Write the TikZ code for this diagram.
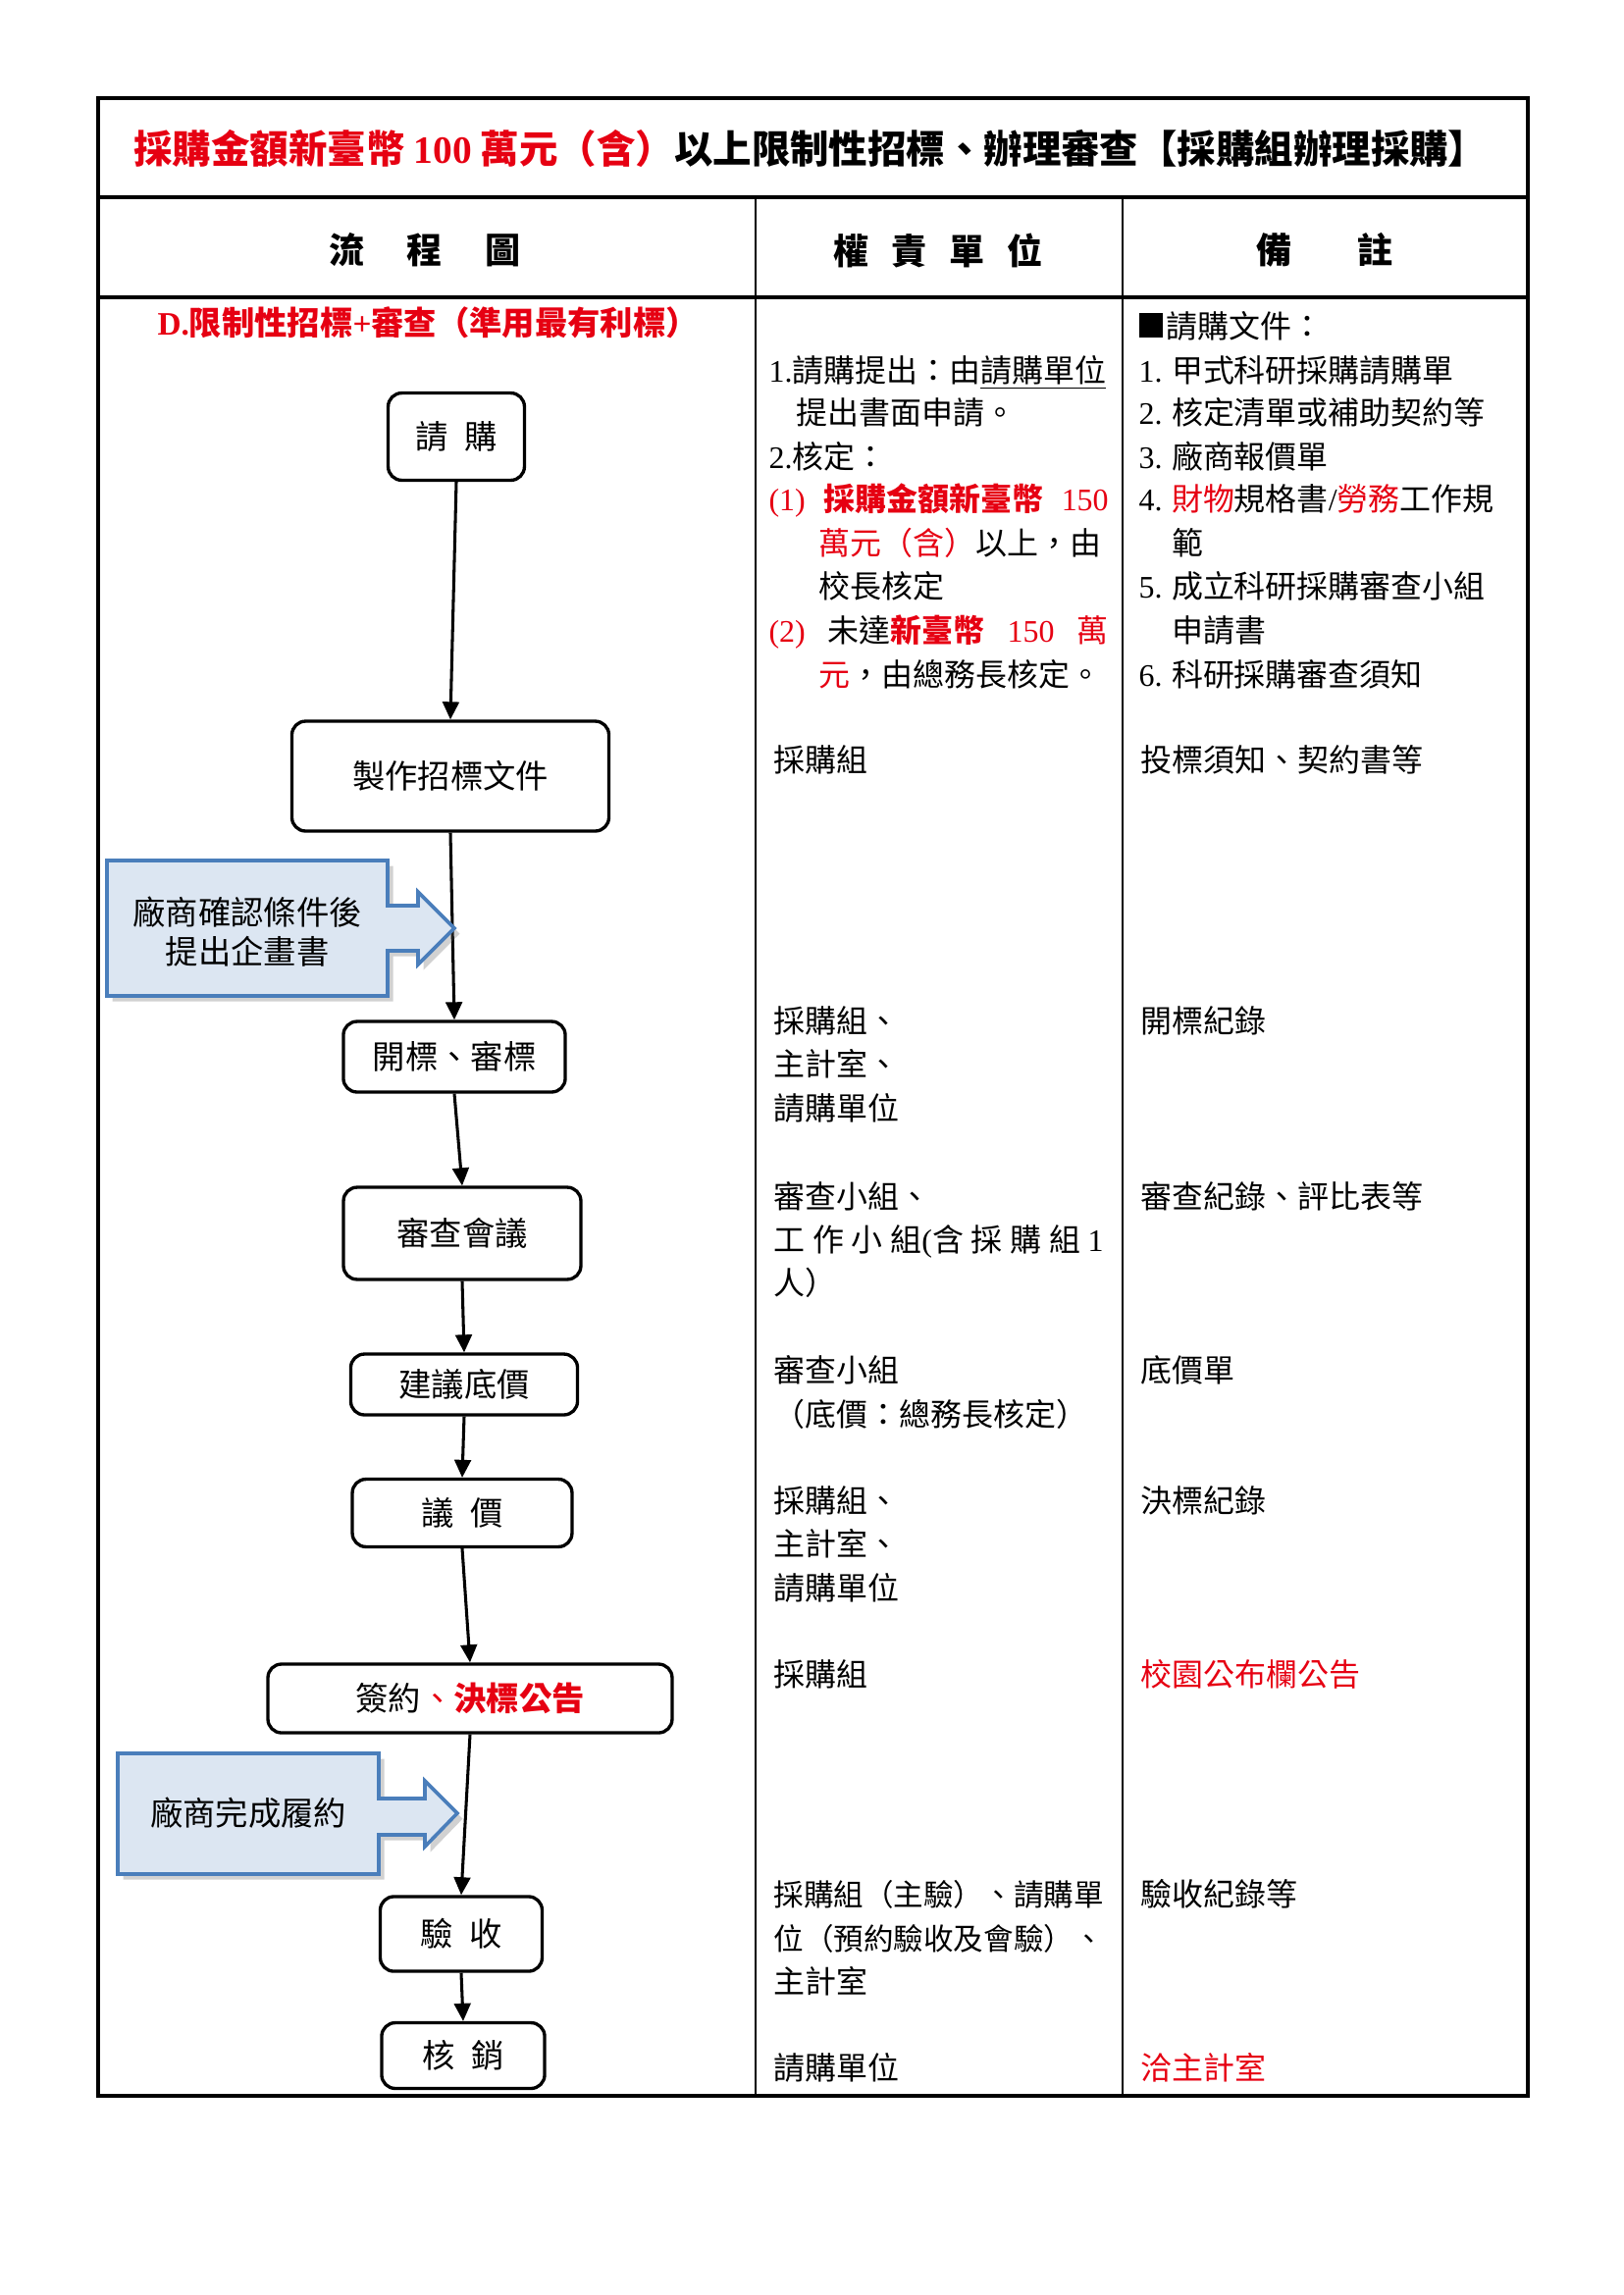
\documentclass[tikz,border=0pt]{standalone}
\usepackage{fontspec}
\setmainfont{Noto Sans CJK TC}
\newfontfamily\tnr{Liberation Serif}
\usetikzlibrary{arrows.meta,shadows}
\definecolor{myred}{RGB}{230,0,18}
\definecolor{cfill}{RGB}{220,230,242}
\definecolor{cdraw}{RGB}{74,126,187}
\newcommand{\nr}[1]{{\tnr #1}}
\newcommand{\rd}[1]{\textcolor{myred}{#1}}
\begin{document}
\begin{tikzpicture}[x=0.36pt,y=-0.36pt,
  tline/.style={line width=1.1pt},
  fbox/.style={draw, line width=1.2pt, rounded corners=5pt, inner sep=0pt, align=center, font=\fontsize{12}{14}\selectfont},
  conn/.style={line width=1.1pt, -{Triangle[length=6.5pt,width=6pt]}},
  callout/.style={fill=cfill, draw=cdraw, line width=1.3pt, drop shadow={shadow xshift=2pt, shadow yshift=-2pt, opacity=0.3, fill=black!60}},
  ctext/.style={inner sep=0pt, align=center, font=\fontsize{12}{14.4}\selectfont},
  txt/.style={anchor=west, inner sep=0pt, text height=10.1pt, text depth=1.4pt, font=\fontsize{11.5}{16}\selectfont},
  hdr/.style={inner sep=0pt, font=\bfseries\fontsize{13}{15}\selectfont},
]
\useasboundingbox (0,0) rectangle (1654,2339);

% table
\draw[tline] (100,100) rectangle (1557,2136);
\draw[tline] (100,201) -- (1557,201);
\draw[line width=1.4pt] (100,303) -- (1557,303);
\draw[line width=0.9pt] (770,201) -- (770,2136);
\draw[line width=0.9pt] (1144,201) -- (1144,2136);

% title and header
\node[inner sep=0pt, font=\bfseries\fontsize{14.2}{16}\selectfont] (title) at (826,151)
  {\rd{採購金額新臺幣 \nr{100} 萬元（含）}以上限制性招標、辦理審查【採購組辦理採購】};
\node[hdr] (h1) at (433,255) {流\hspace{15.5pt}程\hspace{15.5pt}圖};
\node[hdr] (h2) at (956,255) {權\hspace{8.3pt}責\hspace{8.3pt}單\hspace{8.3pt}位};
\node[hdr] (h3) at (1350,255) {備\hspace{23.8pt}註};

\node[txt, font=\bfseries\fontsize{12}{14}\selectfont, text=myred] (sub) at (160,329)
  {\nr{D.}限制性招標\nr{+}審查（準用最有利標）};

% flow nodes
\node[fbox, minimum width=50pt, minimum height=32pt] (n1) at (465,445) {請\hspace{6pt}購};
\node[fbox, minimum width=116.3pt, minimum height=40.3pt] (n2) at (459,791) {製作招標文件};
\node[fbox, minimum width=81.4pt, minimum height=25.9pt] (n3) at (463,1077) {開標、審標};
\node[fbox, minimum width=87.1pt, minimum height=33.8pt] (n4) at (471,1257) {審查會議};
\node[fbox, minimum width=83.2pt, minimum height=22.3pt] (n5) at (473,1411) {建議底價};
\node[fbox, minimum width=80.6pt, minimum height=24.8pt] (n6) at (471,1542) {議\hspace{6pt}價};
\node[fbox, minimum width=148.3pt, minimum height=25.2pt] (n7) at (479,1731) {簽約\rd{、\textbf{決標公告}}};
\node[fbox, minimum width=59.4pt, minimum height=27.4pt] (n8) at (470,1971) {驗\hspace{6pt}收};
\node[fbox, minimum width=59.8pt, minimum height=24.1pt] (n9) at (472,2095) {核\hspace{6pt}銷};

\draw[conn] (n1.south) -- (n2.north);
\draw[conn] (n2.south) -- (n3.north);
\draw[conn] (n3.south) -- (n4.north);
\draw[conn] (n4.south) -- (n5.north);
\draw[conn] (n5.south) -- (n6.north);
\draw[conn] (n6.south) -- (n7.north);
\draw[conn] (n7.south) -- (n8.north);
\draw[conn] (n8.south) -- (n9.north);

% callouts
\draw[callout] (109,877) -- (395,877) -- (395,923) -- (426,923) -- (426,909) -- (463,946)
  -- (426,983) -- (426,969) -- (395,969) -- (395,1015) -- (109,1015) -- cycle;
\node[ctext] (c1) at (252,950) {廠商確認條件後\\提出企畫書};
\draw[callout] (120,1787) -- (386,1787) -- (386,1833) -- (433,1833) -- (433,1815) -- (466,1848)
  -- (433,1882) -- (433,1870) -- (386,1870) -- (386,1910) -- (120,1910) -- cycle;
\node[ctext] (c2) at (253,1848) {廠商完成履約};

% column 2 (權責單位)
\node[txt] (a1) at (783,377) {\nr{1.}請購提出：由\underline{請購單位}};
\node[txt] (a2) at (811,420) {提出書面申請。};
\node[txt] (a3) at (783,465) {\nr{2.}核定：};
\node[txt] (a4) at (783,508) {\makebox[124.6pt][s]{\rd{\nr{(1)} \textbf{採購金額新臺幣} \nr{150}}}};
\node[txt] (a5) at (834,553) {\rd{萬元（含）}以上，由};
\node[txt] (a6) at (834,597) {校長核定};
\node[txt] (a7) at (783,642) {\makebox[124.6pt][s]{\rd{\nr{(2)}} 未達\rd{\textbf{新臺幣}} \rd{\nr{150}} \rd{萬}}};
\node[txt] (a8) at (834,687) {\rd{元}，由總務長核定。};

\node[txt] (b1) at (788,774) {採購組};
\node[txt] (b2) at (788,1040) {採購組、};
\node[txt] (b3) at (788,1084) {主計室、};
\node[txt] (b4) at (788,1129) {請購單位};
\node[txt] (b5) at (788,1219) {審查小組、};
\node[txt] (b6) at (788,1263) {\makebox[121pt][s]{工 作 小 組\nr{(}含 採 購 組 \nr{1}}};
\node[txt] (b7) at (788,1307) {人）};
\node[txt] (b8) at (788,1396) {審查小組};
\node[txt] (b9) at (788,1441) {（底價：總務長核定）};
\node[txt] (b10) at (788,1529) {採購組、};
\node[txt] (b11) at (788,1573) {主計室、};
\node[txt] (b12) at (788,1618) {請購單位};
\node[txt] (b13) at (788,1706) {採購組};
\node[txt, font=\fontsize{11}{16}\selectfont] (b14) at (788,1930) {採購組（主驗）、請購單};
\node[txt, font=\fontsize{11}{16}\selectfont] (b15) at (788,1975) {位（預約驗收及會驗）、};
\node[txt] (b16) at (788,2019) {主計室};
\node[txt] (b17) at (788,2107) {請購單位};

% column 3 (備註)
\node[txt] (r0) at (1160,332) {\rule{0.78em}{0.78em}\hspace{0.1em}請購文件：};
\node[txt] (r1) at (1160,377) {\nr{1.} 甲式科研採購請購單};
\node[txt] (r2) at (1160,420) {\nr{2.} 核定清單或補助契約等};
\node[txt] (r3) at (1160,465) {\nr{3.} 廠商報價單};
\node[txt] (r4) at (1160,508) {\nr{4.} \rd{財物}規格書\nr{/}\rd{勞務}工作規};
\node[txt] (r5) at (1194,553) {範};
\node[txt] (r6) at (1160,597) {\nr{5.} 成立科研採購審查小組};
\node[txt] (r7) at (1194,642) {申請書};
\node[txt] (r8) at (1160,687) {\nr{6.} 科研採購審查須知};

\node[txt] (s1) at (1162,774) {投標須知、契約書等};
\node[txt] (s2) at (1162,1040) {開標紀錄};
\node[txt] (s3) at (1162,1219) {審查紀錄、評比表等};
\node[txt] (s4) at (1162,1396) {底價單};
\node[txt] (s5) at (1162,1529) {決標紀錄};
\node[txt, text=myred] (s6) at (1162,1706) {校園公布欄公告};
\node[txt] (s7) at (1162,1930) {驗收紀錄等};
\node[txt, text=myred] (s8) at (1162,2107) {洽主計室};
\end{tikzpicture}
\end{document}
